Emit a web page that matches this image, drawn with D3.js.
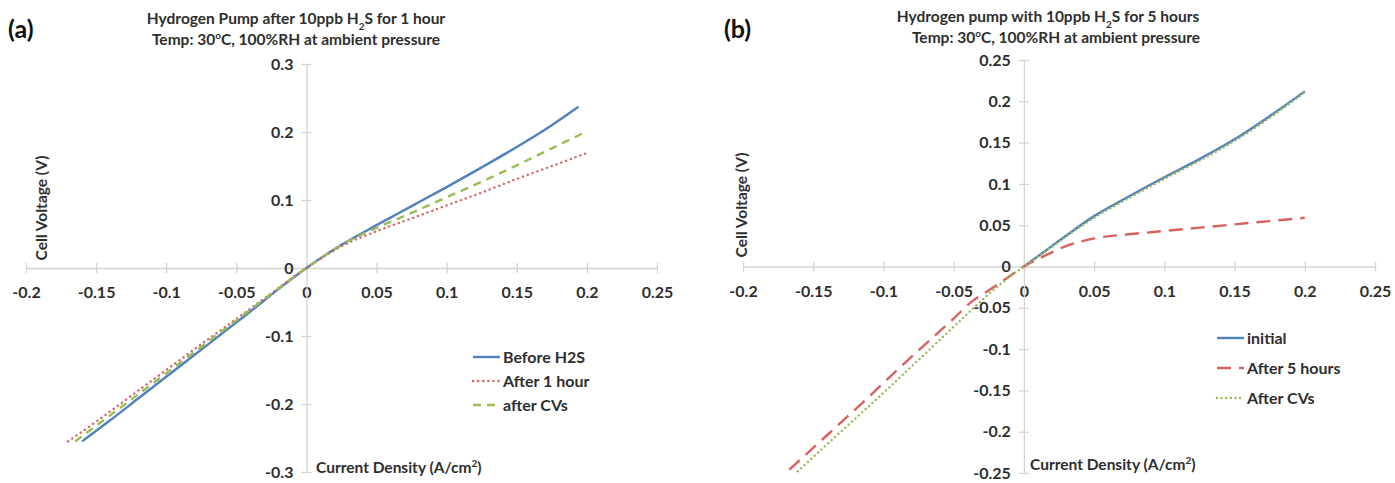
<!DOCTYPE html>
<html>
<head>
<meta charset="utf-8">
<script src="https://cdn.jsdelivr.net/npm/d3@7"></script>
<style>
  body { margin: 0; background: #fff; }
  svg text { font-family: Lato, "Liberation Sans", sans-serif; font-weight: bold; fill: #2e2e2e; }
  .axis path, .axis line { stroke: #d4d4d4; stroke-width: 1.3; }
</style>
</head>
<body>
<svg id="chart" width="1395" height="483"></svg>
<script>
// tick values
const xTicks = [-0.2, -0.15, -0.1, -0.05, 0, 0.05, 0.1, 0.15, 0.2, 0.25];
const yTicksA = [-0.3, -0.2, -0.1, 0, 0.1, 0.2, 0.3];
const yTicksB = [-0.25, -0.2, -0.15, -0.1, -0.05, 0, 0.05, 0.1, 0.15, 0.2, 0.25];

// panel (a): current density (A/cm2) and cell voltage (V)
const beforeI = [-0.16, -0.14, -0.12, -0.1, -0.08, -0.06, -0.04, -0.02, 0, 0.025, 0.05, 0.075, 0.1, 0.125, 0.15, 0.175, 0.194];
const beforeV = [-0.255, -0.224, -0.192, -0.16, -0.128, -0.096, -0.064, -0.031, 0, 0.034, 0.063, 0.091, 0.119, 0.148, 0.178, 0.210, 0.237];
const after1hI = [-0.17, -0.15, -0.125, -0.1, -0.075, -0.05, -0.025, 0, 0.025, 0.05, 0.075, 0.1, 0.125, 0.15, 0.175, 0.2];
const after1hV = [-0.255, -0.226, -0.188, -0.150, -0.112, -0.075, -0.037, 0, 0.032, 0.054, 0.073, 0.092, 0.111, 0.131, 0.150, 0.169];
const afterCvAI = [-0.165, -0.15, -0.1, -0.05, 0, 0.025, 0.05, 0.075, 0.1, 0.125, 0.15, 0.175, 0.2];
const afterCvAV = [-0.255, -0.232, -0.155, -0.077, 0, 0.034, 0.059, 0.081, 0.104, 0.127, 0.151, 0.176, 0.201];

// panel (b)
const initialI = [0, 0.0137, 0.029, 0.05, 0.075, 0.1, 0.125, 0.15, 0.175, 0.2];
const initialV = [0, 0.017, 0.036, 0.061, 0.085, 0.108, 0.130, 0.154, 0.182, 0.212];
const after5hI = [-0.167, -0.14, -0.115, -0.09, -0.074, -0.05, -0.036, -0.026, -0.012, 0, 0.0137, 0.029, 0.05, 0.075, 0.1, 0.125, 0.15, 0.175, 0.2];
const after5hV = [-0.246, -0.204, -0.165, -0.125, -0.1, -0.063, -0.041, -0.030, -0.014, 0, 0.012, 0.024, 0.034, 0.039, 0.043, 0.047, 0.051, 0.055, 0.059];
const afterCvBI = [-0.161, -0.14, -0.12, -0.1, -0.08, -0.06, -0.04, -0.02, 0, 0.0137, 0.029, 0.05, 0.075, 0.1, 0.125, 0.15, 0.175, 0.2];
const afterCvBV = [-0.248, -0.215, -0.184, -0.153, -0.121, -0.089, -0.057, -0.026, 0, 0.016, 0.035, 0.059, 0.083, 0.106, 0.128, 0.152, 0.180, 0.211];

const BLUE = "#4f81bd", RED = "#d9625f", GREEN = "#9bbb59";

const svg = d3.select("#chart");
const fmt = d => String(+d.toFixed(2));

function zip(xs, ys) { return xs.map((x, i) => [x, ys[i]]); }

function drawPanel(p) {
  const x = d3.scaleLinear().domain([-0.2, 0.25]).range(p.xRange);
  const y = d3.scaleLinear().domain(p.yDomain).range(p.yRange);
  const g = svg.append("g");

  // x axis through y = 0, cross ticks
  const gx = g.append("g").attr("class", "axis")
    .attr("transform", `translate(0,${y(0)})`)
    .call(d3.axisBottom(x).tickValues(xTicks).tickFormat(fmt).tickSizeOuter(0));
  gx.selectAll(".tick line").attr("y1", -5).attr("y2", 5);
  gx.selectAll(".tick text").attr("y", 19).attr("dy", "0.71em").style("font-size", "16px");

  // y axis through x = 0
  const gy = g.append("g").attr("class", "axis")
    .attr("transform", `translate(${x(0)},0)`)
    .call(d3.axisLeft(y).tickValues(p.yTicks).tickFormat(fmt).tickSizeOuter(0));
  gy.selectAll(".tick line").attr("x1", -5).attr("x2", 5);
  gy.selectAll(".tick text").attr("x", -13).style("font-size", "16px");
  g.selectAll(".axis .domain").attr("stroke", "#d4d4d4");

  const line = d3.line().x(d => x(d[0])).y(d => y(d[1])).curve(d3.curveMonotoneX);
  p.series.forEach(s => {
    g.append("path").datum(zip(s.xs, s.ys))
      .attr("d", line).attr("fill", "none")
      .attr("stroke", s.color).attr("stroke-width", 2.4)
      .attr("stroke-dasharray", s.dash).attr("stroke-linecap", s.cap);
  });

  // legend
  p.series.forEach((s, i) => {
    const ly = p.legend[1] + i * p.legend[2];
    g.append("line").attr("x1", p.legend[0]).attr("x2", p.legend[0] + 27)
      .attr("y1", ly).attr("y2", ly)
      .attr("stroke", s.color).attr("stroke-width", 2.4)
      .attr("stroke-dasharray", s.dash).attr("stroke-linecap", s.cap);
    g.append("text").attr("x", p.legend[0] + 30).attr("y", ly).attr("dy", "0.35em")
      .style("font-size", "16px").text(s.name);
  });

  // panel letter
  g.append("text").attr("x", p.letter[0]).attr("y", p.letter[1])
    .style("font-size", "25px").style("fill", "#111").text(p.tag);

  // title lines
  const t1 = g.append("text").attr("x", p.title[0]).attr("y", p.title[1])
    .attr("text-anchor", "middle").style("font-size", "15.5px");
  t1.append("tspan").text(p.titleA);
  t1.append("tspan").attr("baseline-shift", "sub").style("font-size", "10px").text("2");
  t1.append("tspan").text(p.titleB);
  const t2 = g.append("text").attr("x", p.title[0] + p.title2dx).attr("y", p.title[1] + 21)
    .attr("text-anchor", "middle").style("font-size", "15.5px");
  t2.append("tspan").text("Temp: 30");
  t2.append("tspan").attr("baseline-shift", "super").style("font-size", "10px").text("o");
  t2.append("tspan").text("C, 100%RH at ambient pressure");

  // axis titles
  g.append("text")
    .attr("transform", `translate(${p.yTitle[0]},${p.yTitle[1]}) rotate(-90)`)
    .attr("text-anchor", "middle").attr("dy", "0.35em")
    .style("font-size", "15.5px").text("Cell Voltage (V)");
  const xt = g.append("text").attr("x", p.xTitle[0]).attr("y", p.xTitle[1])
    .style("font-size", "15.5px");
  xt.append("tspan").text("Current Density (A/cm");
  xt.append("tspan").attr("baseline-shift", "super").style("font-size", "10px").text("2");
  xt.append("tspan").text(")");
}

drawPanel({
  tag: "(a)", letter: [8, 38],
  xRange: [26, 657], yDomain: [-0.3, 0.3], yRange: [472, 64], yTicks: yTicksA,
  title: [296, 24], title2dx: 0,
  titleA: "Hydrogen Pump after 10ppb H", titleB: "S for 1 hour",
  yTitle: [42, 208], xTitle: [316, 473],
  legend: [473, 357, 24],
  series: [
    { name: "Before H2S", xs: beforeI, ys: beforeV, color: BLUE, dash: null, cap: "butt" },
    { name: "After 1 hour", xs: after1hI, ys: after1hV, color: RED, dash: "0.1 5", cap: "round" },
    { name: "after CVs", xs: afterCvAI, ys: afterCvAV, color: GREEN, dash: "8 6", cap: "butt" }
  ]
});

drawPanel({
  tag: "(b)", letter: [724, 38],
  xRange: [743, 1375], yDomain: [-0.25, 0.25], yRange: [473, 60], yTicks: yTicksB,
  title: [1048, 22], title2dx: 8,
  titleA: "Hydrogen pump with 10ppb H", titleB: "S for 5 hours",
  yTitle: [742, 205], xTitle: [1030, 470],
  legend: [1217, 338, 30],
  series: [
    { name: "initial", xs: initialI, ys: initialV, color: BLUE, dash: null, cap: "butt" },
    { name: "After 5 hours", xs: after5hI, ys: after5hV, color: RED, dash: "14 8", cap: "butt" },
    { name: "After CVs", xs: afterCvBI, ys: afterCvBV, color: GREEN, dash: "0.1 4.5", cap: "round" }
  ]
});
</script>
</body>
</html>
